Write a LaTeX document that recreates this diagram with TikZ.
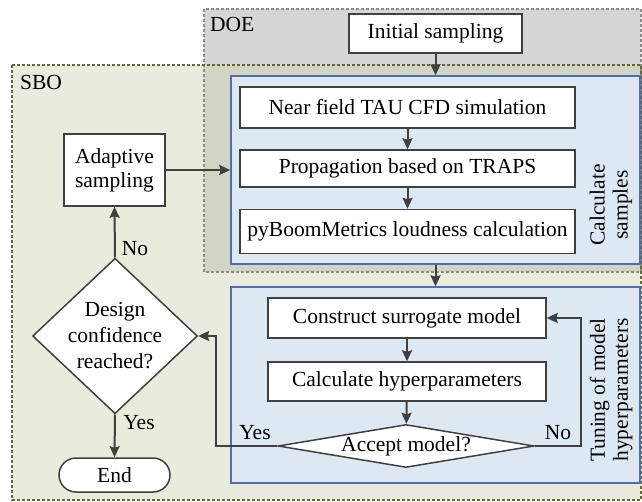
\documentclass[tikz,border=0pt]{standalone}
\usepackage{fontspec}
\setmainfont{Liberation Serif}
\usetikzlibrary{arrows.meta,shapes.geometric}
\definecolor{doefill}{HTML}{D6D6D6}
\definecolor{sbofill}{HTML}{E9ECDC}
\definecolor{bothfill}{HTML}{D2D5C3}
\definecolor{doeline}{HTML}{8C8C8C}
\definecolor{sboline}{HTML}{5F6B32}
\definecolor{grpfill}{HTML}{DEE8F2}
\definecolor{grpline}{HTML}{4F6DB5}
\definecolor{ink}{HTML}{404040}
\begin{document}
\begin{tikzpicture}[x=1pt,y=-1pt,
  font=\fontsize{21.5}{23}\selectfont,
  region/.style={line width=1.2pt,dash pattern=on 3pt off 2pt},
  group/.style={draw=grpline,fill=grpfill,line width=1.5pt},
  stepbox/.style={draw=ink,fill=white,line width=1.5pt,inner sep=0pt,text=black},
  decision/.style={diamond,draw=ink,fill=white,line width=1.5pt,inner sep=0pt,align=center},
  arr/.style={draw=ink,line width=2pt,-{Stealth[length=11pt,width=10pt,inset=1.5pt]}},
  lbl/.style={inner sep=0pt,text=black}]
\useasboundingbox (0,0) rectangle (642,502);

% background regions
\fill[sbofill] (12,65) rectangle (641,500);
\fill[doefill] (204,9) rectangle (641,272);
\fill[bothfill] (204,65) rectangle (641,272);
\draw[region,draw=doeline] (204,9) rectangle (641,272);
\draw[region,draw=sboline] (12,65) rectangle (641,500);
\node[lbl,anchor=west] (doelbl) at (210,24) {DOE};
\node[lbl,anchor=west] (sbolbl) at (20,82) {SBO};

% grouping boxes
\node[group,minimum width=409pt,minimum height=188pt,inner sep=0pt] (calcbox) at (435.5,170) {};
\node[group,minimum width=409pt,minimum height=196pt,inner sep=0pt] (tunebox) at (435.5,385) {};
\node[lbl,rotate=90,align=center] (calclbl) at (611,205) {Calculate\\samples};
\node[lbl,rotate=90,align=center] (tunelbl) at (611,390) {Tuning of model\\hyperparameters};

% process steps
\node[stepbox,minimum width=173pt,minimum height=39pt] (init) at (435.5,33.5) {Initial sampling};
\node[stepbox,minimum width=335pt,minimum height=41pt] (cfd) at (407.5,107.5) {Near field TAU CFD simulation};
\node[stepbox,minimum width=335pt,minimum height=37pt] (prop) at (407.5,168.5) {Propagation based on TRAPS};
\node[stepbox,minimum width=335pt,minimum height=44pt] (loud) at (407.5,231.5) {pyBoomMetrics loudness calculation};
\node[stepbox,minimum width=278pt,minimum height=40pt] (surr) at (407,318) {Construct surrogate model};
\node[stepbox,minimum width=278pt,minimum height=39pt] (hyper) at (407,381.5) {Calculate hyperparameters};
\node[decision,minimum width=256pt,minimum height=43pt,aspect=6] (accept) at (406,446) {Accept model?};
\node[stepbox,minimum width=101pt,minimum height=72pt,align=center,
      font=\fontsize{21.5}{24}\selectfont] (adapt) at (114.5,170) {Adaptive\\sampling};
\node[decision,minimum width=157pt,minimum height=148pt,aspect=1.06,
      font=\fontsize{21.5}{26}\selectfont] (design) at (115,336) {Design\\confidence\\reached?};
\node[stepbox,rounded corners=17pt,minimum width=111pt,minimum height=34pt] (endnode) at (114.5,475) {End};

% turning points of the loops
\coordinate (noturn) at (581,0);
\coordinate (yesturn) at (216,0);

% connectors
\draw[arr] (init.south) -- (calcbox.north);
\draw[arr] (cfd) -- (prop);
\draw[arr] (prop) -- (loud);
\draw[arr] (calcbox.south) -- (tunebox.north);
\draw[arr] (surr) -- (hyper);
\draw[arr] (hyper) -- (accept);
\draw[arr] (accept.east) -- (accept.east -| noturn) |- (surr.east);
\draw[arr] (accept.west) -- (accept.west -| yesturn) |- (design.east);
\draw[arr] (design.north) -- (adapt.south);
\draw[arr] (design.south) -- (endnode.north);
\draw[arr] (adapt.east) -- (adapt.east -| calcbox.west);

% branch labels
\node[lbl] (nolbl1) at (558,433) {No};
\node[lbl] (yeslbl1) at (255,433) {Yes};
\node[lbl] (nolbl2) at (135,249) {No};
\node[lbl] (yeslbl2) at (139,423) {Yes};
\end{tikzpicture}
\end{document}
